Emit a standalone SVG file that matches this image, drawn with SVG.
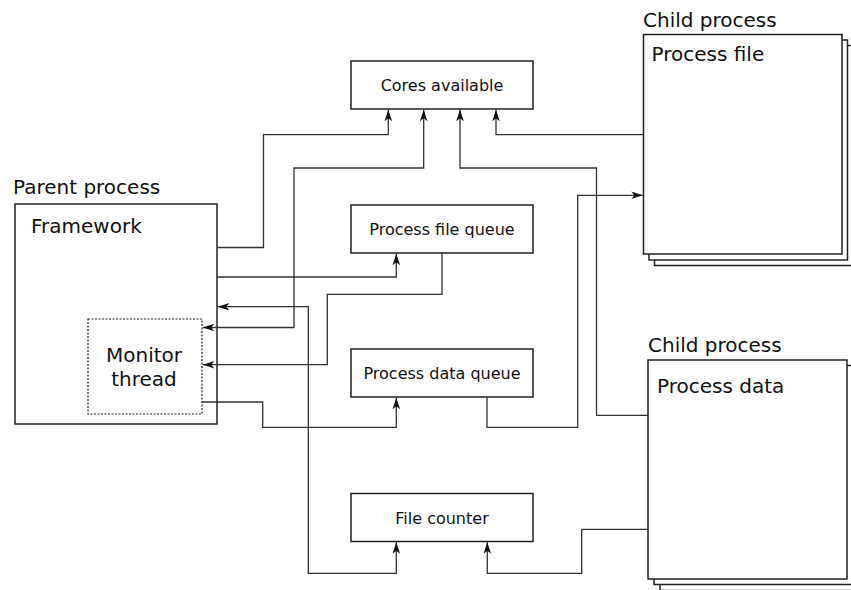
<svg xmlns="http://www.w3.org/2000/svg" width="851" height="590" viewBox="0 0 851 590">
<style>
  .box { fill: #ffffff; stroke: #222222; stroke-width: 1.5; }
  .dash { fill: none; stroke: #222222; stroke-width: 1.2; stroke-dasharray: 2 1.5; }
  .t20 { font-family: "DejaVu Sans", "Liberation Sans", sans-serif; font-size: 20px; fill: #111111; }
  .t16 { font-family: "DejaVu Sans", "Liberation Sans", sans-serif; font-size: 16px; fill: #111111; text-anchor: middle; }
  .mid { text-anchor: middle; }
  .wire { fill: none; stroke: #333333; stroke-width: 1.3; }
  .a-end { marker-end: url(#arr); }
  .a-both { marker-end: url(#arr); marker-start: url(#arr); }
</style>
<defs>
  <marker id="arr" markerUnits="userSpaceOnUse" viewBox="-12 -5 13 10" refX="0" refY="0" markerWidth="13" markerHeight="10" orient="auto-start-reverse">
    <path d="M0,0 L-11.5,-3.8 L-8.5,0 L-11.5,3.8 Z" fill="#111111"/>
  </marker>
</defs>
<rect width="851" height="590" fill="#ffffff"/>

<g id="parent">
  <text class="t20" x="13" y="194">Parent process</text>
  <rect class="box" x="15" y="204" width="202" height="220"/>
  <text class="t20" x="31" y="232.5">Framework</text>
</g>
<g id="monitor">
  <rect class="dash" x="88" y="319" width="114" height="95"/>
  <text class="t20 mid" x="144" y="361.5">Monitor</text>
  <text class="t20 mid" x="144" y="386">thread</text>
</g>

<g id="cores">
  <rect class="box" x="351" y="61" width="182" height="48"/>
  <text class="t16" x="442" y="90.7">Cores available</text>
</g>
<g id="pfqueue">
  <rect class="box" x="351" y="205" width="182" height="48"/>
  <text class="t16" x="442" y="234.5">Process file queue</text>
</g>
<g id="pdqueue">
  <rect class="box" x="351" y="349" width="182" height="48"/>
  <text class="t16" x="442" y="379">Process data queue</text>
</g>
<g id="counter">
  <rect class="box" x="351" y="493.5" width="182" height="48"/>
  <text class="t16" x="442" y="523.5">File counter</text>
</g>

<g id="child-file">
  <text class="t20" x="643" y="26.7">Child process</text>
  <rect class="box" x="654.5" y="45.5" width="198.5" height="220"/>
  <rect class="box" x="649" y="40" width="198.5" height="220"/>
  <rect class="box" x="643.5" y="34.5" width="198.5" height="219.5"/>
  <text class="t20" x="651.5" y="60.7">Process file</text>
</g>
<g id="child-data">
  <text class="t20" x="648" y="351.7">Child process</text>
  <rect class="box" x="660" y="371.5" width="199" height="219"/>
  <rect class="box" x="654" y="365.5" width="199" height="219"/>
  <rect class="box" x="648" y="360" width="199" height="219"/>
  <text class="t20" x="657" y="393.3">Process data</text>
</g>

<g id="connectors">
  <path class="wire a-end" d="M217,247.5 H263.5 V134.7 H388.3 V109.8"/>
  <path class="wire a-both" d="M202.8,327.5 H294 V168 H423.7 V109.8"/>
  <path class="wire a-end" d="M648,415.3 H596.5 V168 H460 V109.8"/>
  <path class="wire a-end" d="M643.5,134.7 H496 V109.8"/>
  <path class="wire a-end" d="M487,397 V427.3 H577.7 V195.3 H642.8"/>
  <path class="wire a-end" d="M217,277 H396.3 V253.8"/>
  <path class="wire a-end" d="M442,253 V294.3 H327.3 V364.7 H202.8"/>
  <path class="wire a-both" d="M217.8,306.7 H308.3 V573.3 H396.3 V542.3"/>
  <path class="wire a-end" d="M202,402 H262.7 V427.3 H396.3 V397.8"/>
  <path class="wire a-end" d="M648,529.3 H581.7 V573.3 H487.3 V542.3"/>
</g>
</svg>
